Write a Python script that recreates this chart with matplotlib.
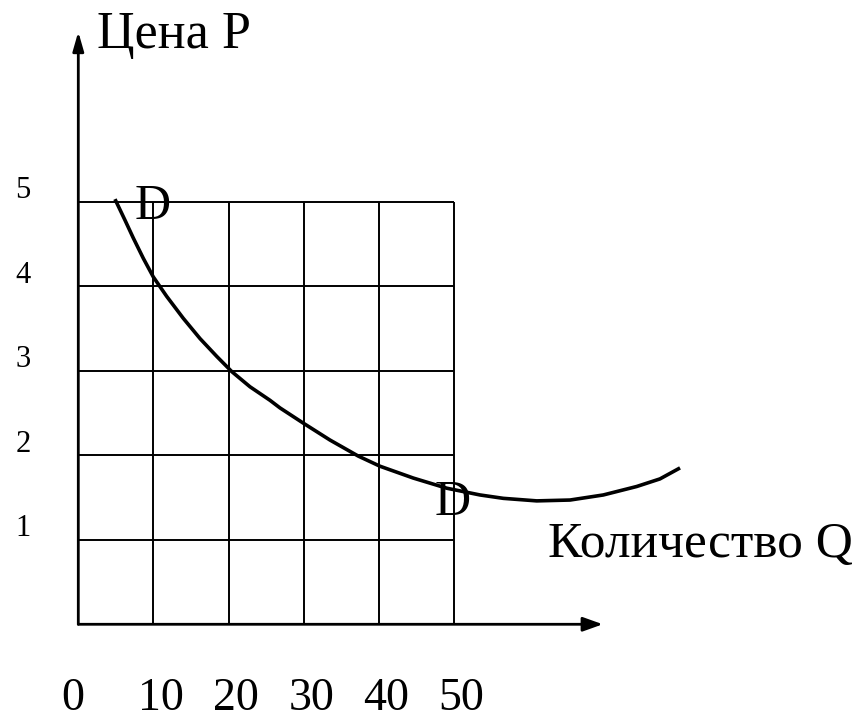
import matplotlib
matplotlib.use("Agg")
import matplotlib.pyplot as plt

plt.rcParams['font.family'] = ['Liberation Serif', 'DejaVu Serif']

# Data
q_ticks = [0, 10, 20, 30, 40, 50]
p_ticks = [1, 2, 3, 4, 5]
curve_q = [4.88, 6.22, 7.32, 8.65, 9.98, 11.76, 13.97, 16.20, 18.42, 20.42,
           22.85, 25.51, 26.84, 29.94, 33.49, 37.26, 40.15, 44.58, 49.03,
           53.46, 56.56, 61.01, 65.44, 69.87, 74.31, 77.41, 80.08]
curve_p = [5.03, 4.78, 4.57, 4.33, 4.11, 3.88, 3.62, 3.38, 3.17, 2.99,
           2.81, 2.65, 2.56, 2.38, 2.18, 1.99, 1.87, 1.73, 1.61,
           1.53, 1.49, 1.46, 1.47, 1.53, 1.63, 1.72, 1.85]
y_title = "Цена P"
x_title = "Количество Q"
curve_label = "D"

fig = plt.figure(figsize=(8.66, 7.23), dpi=100)
ax = fig.add_axes([0, 0, 1, 1])
ax.set_xlim(-10.42, 104.83)
ax.set_ylim(-1.168, 7.386)
ax.axis('off')

qmax = q_ticks[-1]
pmax = p_ticks[-1]

# grid
for q in q_ticks[1:]:
    ax.plot([q, q], [0, pmax], color='black', lw=1.4, solid_capstyle='butt')
for p in p_ticks:
    ax.plot([0, qmax], [p, p], color='black', lw=1.4, solid_capstyle='butt')

# axes with arrows
ax.annotate('', xy=(69.8, 0), xytext=(0, 0),
            arrowprops=dict(arrowstyle='-|>,head_length=1.2,head_width=0.43',
                            lw=2.0, color='black', shrinkA=0, shrinkB=0))
ax.annotate('', xy=(0, 7.01), xytext=(0, 0),
            arrowprops=dict(arrowstyle='-|>,head_length=1.15,head_width=0.33',
                            lw=2.0, color='black', shrinkA=0, shrinkB=0))

# demand curve
ax.plot(curve_q, curve_p, color='black', lw=2.6, solid_capstyle='butt',
        solid_joinstyle='round')

# labels on curve
ax.text(7.55, 4.80, curve_label, fontsize=36, ha='left', va='baseline')
ax.text(47.47, 1.293, curve_label, fontsize=36, ha='left', va='baseline')

# axis titles
ax.text(2.55, 6.815, y_title, fontsize=37.5, ha='left', va='baseline')
ax.text(62.45, 0.80, x_title, fontsize=37, ha='left', va='baseline')

# tick labels
for q in q_ticks:
    xq = q - 0.8 if q == 0 else q + 1.0
    ax.text(xq, -1.02, str(q), fontsize=33, ha='center', va='baseline')
for p in p_ticks:
    ax.text(-7.36, p + 0.04, str(p), fontsize=22, ha='center', va='baseline')

fig.savefig('out.png', dpi=100)
